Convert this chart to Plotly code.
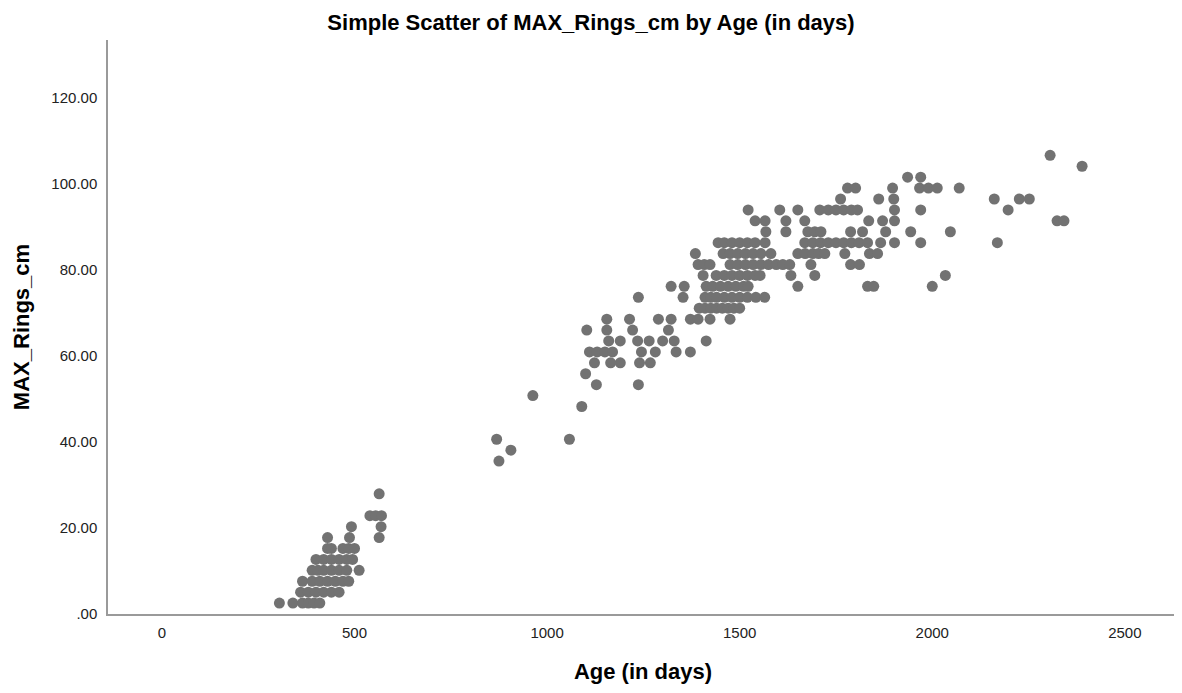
import plotly.graph_objects as go

# MAX_Rings_cm levels (y) and the ages (x, days) of the points on each level
ring_levels = [2.54, 5.08, 7.62, 10.16, 12.70, 15.24, 17.78, 20.32, 22.86, 27.94,
               35.56, 38.10, 40.64, 48.26, 50.80, 53.34, 55.88, 58.42, 60.96, 63.50,
               66.04, 68.58, 71.12, 73.66, 76.20, 78.74, 81.28, 83.82, 86.36, 88.90,
               91.44, 93.98, 96.52, 99.06, 101.60, 104.14, 106.68]

ages_per_level = [
    [305, 340, 365, 380, 395, 410],
    [360, 380, 400, 420, 440, 460],
    [365, 390, 410, 430, 450, 470, 485],
    [390, 405, 420, 440, 460, 480, 512],
    [400, 420, 440, 460, 480, 495],
    [430, 440, 470, 485, 500],
    [430, 487, 564],
    [492, 569],
    [540, 555, 570],
    [564],
    [875],
    [906],
    [869, 1058],
    [1090],
    [963],
    [1128, 1237],
    [1100],
    [1123, 1165, 1190, 1240, 1268],
    [1110, 1130, 1150, 1170, 1245, 1281, 1335, 1372],
    [1160, 1190, 1235, 1265, 1300, 1330, 1413],
    [1103, 1155, 1222, 1315],
    [1155, 1214, 1289, 1322, 1372, 1392, 1423, 1475],
    [1395, 1410, 1425, 1440, 1455, 1470, 1485, 1500],
    [1237, 1353, 1410, 1425, 1440, 1460, 1480, 1500, 1520, 1542, 1565],
    [1322, 1356, 1413, 1430, 1450, 1470, 1490, 1510, 1522, 1651, 1832, 1848, 2000],
    [1405, 1439, 1460, 1480, 1500, 1520, 1540, 1553, 1633, 1695, 2034],
    [1392, 1408, 1423, 1475, 1495, 1515, 1535, 1555, 1575, 1595, 1612, 1630, 1685, 1788, 1811],
    [1385, 1457, 1475, 1495, 1515, 1535, 1555, 1581, 1651, 1670, 1690, 1705, 1721, 1773, 1837, 1858],
    [1444, 1460, 1480, 1500, 1520, 1540, 1566, 1669, 1690, 1710, 1730, 1750, 1770, 1790, 1810,
     1832, 1866, 1902, 1970, 2169],
    [1568, 1620, 1677, 1695, 1711, 1788, 1819, 1879, 1944, 2047],
    [1540, 1566, 1620, 1669, 1835, 1871, 1902, 2324, 2342],
    [1522, 1604, 1651, 1708, 1730, 1750, 1770, 1790, 1806, 1902, 1970, 2197],
    [1762, 1861, 1900, 2161, 2226, 2252],
    [1780, 1801, 1897, 1967, 1990, 2013, 2070],
    [1936, 1970],
    [2389],
    [2306],
]

x_tick_vals = [0, 500, 1000, 1500, 2000, 2500]
y_tick_vals = [0, 20, 40, 60, 80, 100, 120]
y_tick_text = [".00", "20.00", "40.00", "60.00", "80.00", "100.00", "120.00"]

ages = []
rings = []
for lvl, row in zip(ring_levels, ages_per_level):
    for a in row:
        ages.append(a)
        rings.append(lvl)

fig = go.Figure(go.Scatter(
    x=ages, y=rings, mode="markers",
    marker=dict(size=11, color="#727272", line=dict(width=0)),
    showlegend=False,
))

FONT = "Arial, Liberation Sans, sans-serif"
axis_font = dict(family=FONT, size=15, color="#222222")
title_font = dict(family=FONT, size=22, color="#000000")

# the page body adds an 8px offset, so the figure is 16px smaller than the window
W, H = 1174, 685
fig.update_layout(
    width=W, height=H,
    margin=dict(l=100, r=4, t=32, b=79),
    paper_bgcolor="white", plot_bgcolor="white",
    title=dict(
        text="<b>Simple Scatter of MAX_Rings_cm by Age (in days)</b>",
        x=583 / W, xref="container", xanchor="center",
        y=1 - 14 / H, yref="container", yanchor="middle",
        font=dict(family=FONT, size=22, color="#000000"),
    ),
    xaxis=dict(
        range=[-140, 2638], tickvals=x_tick_vals,
        showgrid=False, zeroline=False,
        showline=True, linecolor="#9a9a9a", linewidth=1.5,
        ticks="", ticklabelstandoff=4, tickfont=axis_font,
        title=dict(text="<b>Age (in days)</b>", font=title_font, standoff=24),
        automargin=False,
    ),
    yaxis=dict(
        range=[0, 133.5], tickvals=y_tick_vals, ticktext=y_tick_text,
        showgrid=False, zeroline=False,
        showline=True, linecolor="#9a9a9a", linewidth=1.5,
        ticks="", ticklabelstandoff=6, tickfont=axis_font,
        title=dict(text="<b>MAX_Rings_cm</b>", font=title_font, standoff=16),
        automargin=False,
    ),
)

fig.write_html("out.html")
